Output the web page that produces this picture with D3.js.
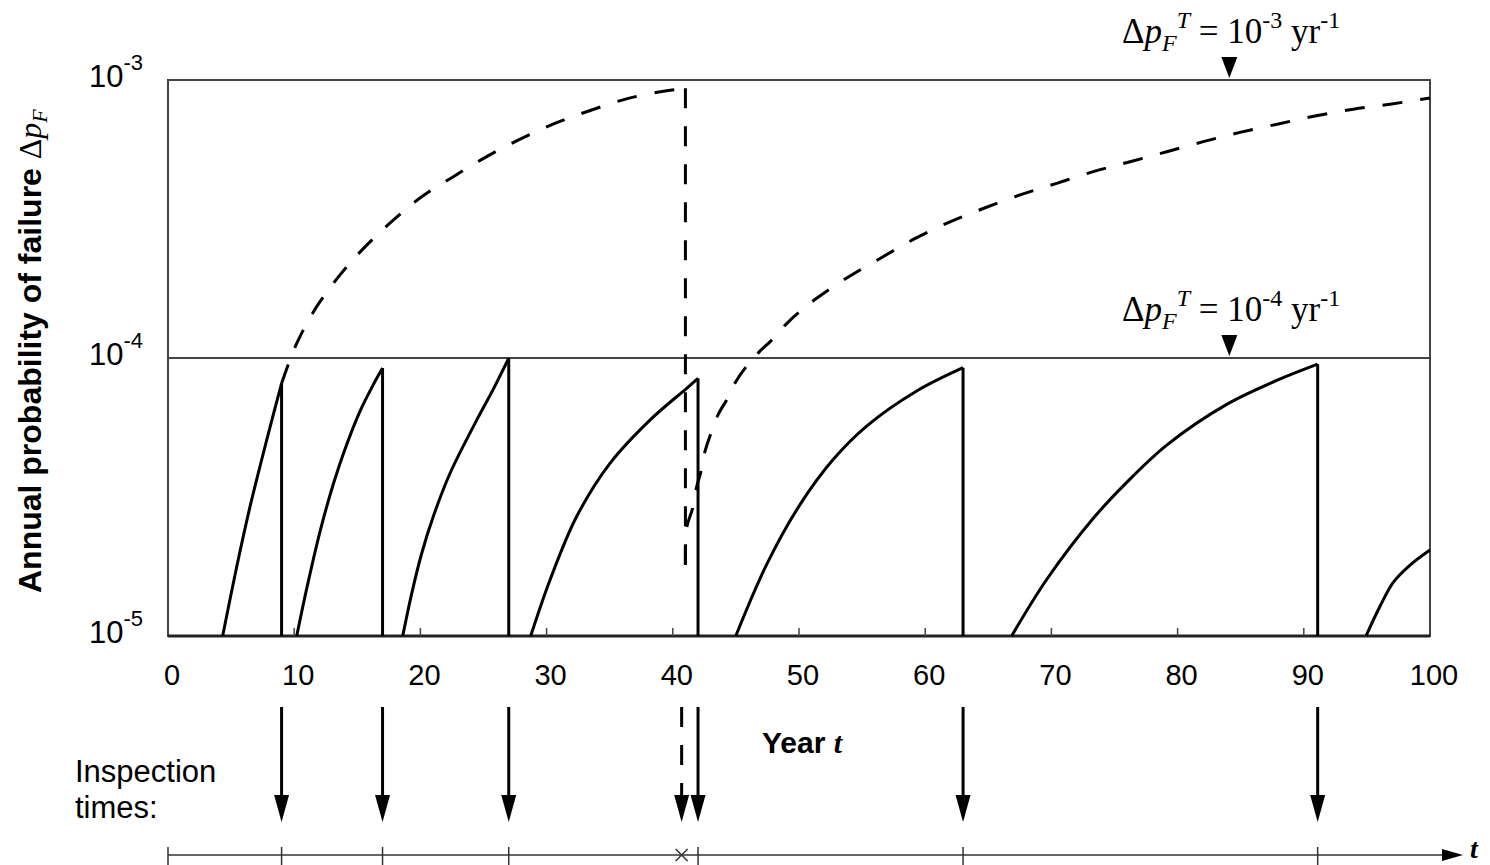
<!DOCTYPE html>
<html>
<head>
<meta charset="utf-8">
<script src="https://cdn.jsdelivr.net/npm/d3@7"></script>
<style>
  html, body { margin: 0; padding: 0; background: #fff; }
  svg { display: block; }
  .sans { font-family: 'Liberation Sans', Arial, Helvetica, sans-serif; }
  .serif { font-family: 'Liberation Serif', 'Times New Roman', Times, serif; }
</style>
</head>
<body>
<div id="chart"></div>
<script>
'use strict';

// x axis (years) and y axis (decades of the annual failure probability)
var xTickValues = [0, 10, 20, 30, 40, 50, 60, 70, 80, 90, 100];
var yTickExponents = [-3, -4, -5];

// target levels and where their markers sit
var targetExponents = [-3, -4];
var targetMarkerYear = 84.1;

// inspection times
var inspectionYears = [9.0, 17.0, 27.0, 42.0, 63.0, 91.1];
var dashedInspectionYear = 41.0;
var dashedArrowYear = 40.7;

// solid curves: target 1e-4, [year, probability]
var solid1 = [[4.33, 1.0e-5], [5.44, 1.77e-5], [6.50, 2.92e-5], [7.82, 5.07e-5], [9.0, 8.1e-5]];
var solid2 = [[10.20, 1.0e-5], [10.99, 1.48e-5], [12.04, 2.37e-5], [13.10, 3.52e-5], [14.03, 4.71e-5],
              [15.21, 6.43e-5], [16.27, 8.02e-5], [17.0, 9.2e-5]];
var solid3 = [[18.60, 1.0e-5], [19.31, 1.42e-5], [20.10, 1.98e-5], [21.02, 2.69e-5], [22.35, 3.85e-5],
              [24.46, 5.98e-5], [25.77, 7.71e-5], [27.0, 9.98e-5]];
var solid4 = [[28.74, 1.0e-5], [30.27, 1.59e-5], [32.38, 2.69e-5], [35.02, 4.18e-5], [38.19, 5.98e-5],
              [41.10, 7.78e-5], [42.0, 8.45e-5]];
var solid5 = [[44.99, 1.0e-5], [47.44, 1.81e-5], [50.08, 2.97e-5], [52.72, 4.32e-5], [55.36, 5.69e-5],
              [59.33, 7.61e-5], [63.0, 9.23e-5]];
var solid6 = [[66.85, 1.0e-5], [69.60, 1.59e-5], [73.32, 2.65e-5], [75.97, 3.57e-5], [79.14, 4.86e-5],
              [83.89, 6.81e-5], [87.85, 8.30e-5], [91.1, 9.50e-5]];
var solid7 = [[94.93, 1.0e-5], [96.04, 1.28e-5], [97.09, 1.56e-5], [98.42, 1.80e-5], [100, 2.04e-5]];

// dashed curves: target 1e-3
var dashed1 = [[9.0, 8.1e-5], [9.72, 1.0e-4], [10.32, 1.16e-4], [11.78, 1.53e-4], [13.63, 1.99e-4],
               [15.61, 2.51e-4], [17.85, 3.13e-4], [20.10, 3.80e-4], [22.61, 4.49e-4], [25.25, 5.30e-4],
               [28.03, 6.17e-4], [30.80, 7.02e-4], [33.57, 7.80e-4], [36.47, 8.59e-4], [39.52, 9.15e-4],
               [41.0, 9.33e-4]];
var dashed2 = [[41.0, 1.8e-5], [41.10, 2.45e-5], [41.58, 2.89e-5], [41.89, 3.44e-5], [42.23, 3.90e-5],
               [42.55, 4.61e-5], [43.03, 5.37e-5], [43.58, 6.24e-5], [44.35, 7.18e-5], [44.99, 8.22e-5],
               [45.93, 9.44e-5], [46.83, 1.05e-4], [47.84, 1.16e-4], [49.02, 1.33e-4], [50.08, 1.47e-4],
               [51.40, 1.64e-4], [53.78, 1.94e-4], [56.42, 2.28e-4], [59.06, 2.67e-4], [61.83, 3.07e-4],
               [64.60, 3.45e-4], [67.51, 3.86e-4], [70.42, 4.25e-4], [73.32, 4.68e-4], [76.23, 5.08e-4],
               [79.14, 5.52e-4], [82.04, 6.00e-4], [84.94, 6.48e-4], [87.98, 6.95e-4], [90.89, 7.42e-4],
               [93.92, 7.85e-4], [96.96, 8.20e-4], [100, 8.61e-4]];

var solidCurves = [solid1, solid2, solid3, solid4, solid5, solid6, solid7];

var width = 1490, height = 865;
var plotLeft = 168, plotRight = 1430, plotTop = 80, plotBottom = 636;

var x = d3.scaleLinear().domain([0, 100]).range([plotLeft, plotRight]);
var y = d3.scaleLog().domain([1e-5, 1e-3]).range([plotBottom, plotTop]);

var svg = d3.select('#chart').append('svg')
    .attr('width', width)
    .attr('height', height);

var line = d3.line()
    .x(function(d) { return x(d[0]); })
    .y(function(d) { return y(d[1]); })
    .curve(d3.curveCatmullRom.alpha(0.5));

// frame
svg.append('rect')
    .attr('x', plotLeft).attr('y', plotTop)
    .attr('width', plotRight - plotLeft).attr('height', plotBottom - plotTop)
    .style('fill', 'none')
    .style('stroke', '#444')
    .style('stroke-width', 2);

// target levels (1e-4 is the inner horizontal line)
svg.selectAll('.target')
    .data(targetExponents)
  .enter().append('line')
    .attr('class', 'target')
    .attr('x1', plotLeft).attr('x2', plotRight)
    .attr('y1', function(d) { return y(Math.pow(10, d)); })
    .attr('y2', function(d) { return y(Math.pow(10, d)); })
    .style('stroke', '#444')
    .style('stroke-width', 2);

// bottom axis, small inner ticks
svg.append('line')
    .attr('x1', plotLeft).attr('x2', plotRight)
    .attr('y1', plotBottom).attr('y2', plotBottom)
    .style('stroke', '#222')
    .style('stroke-width', 3);

svg.selectAll('.xtick')
    .data(xTickValues.slice(1, -1))
  .enter().append('line')
    .attr('class', 'xtick')
    .attr('x1', function(d) { return x(d); })
    .attr('x2', function(d) { return x(d); })
    .attr('y1', plotBottom).attr('y2', plotBottom - 8)
    .style('stroke', '#444')
    .style('stroke-width', 1.5);

svg.selectAll('.xlabel')
    .data(xTickValues)
  .enter().append('text')
    .attr('class', 'xlabel sans')
    .attr('x', function(d) { return x(d) + 4; })
    .attr('y', 685)
    .attr('text-anchor', 'middle')
    .style('font-size', '29px')
    .text(function(d) { return d; });

// y labels 10^-n
var ylab = svg.selectAll('.ylabel')
    .data(yTickExponents)
  .enter().append('text')
    .attr('class', 'ylabel sans')
    .attr('x', 143)
    .attr('y', function(d) { return y(Math.pow(10, d)) + 7; })
    .attr('text-anchor', 'end')
    .style('font-size', '31px');
ylab.append('tspan').text('10');
ylab.append('tspan')
    .attr('dy', -17)
    .style('font-size', '22px')
    .text(function(d) { return '-' + Math.abs(d); });

// y axis title
var ytitle = svg.append('text')
    .attr('transform', 'translate(41,593) rotate(-90)')
    .attr('class', 'sans')
    .style('font-size', '32px')
    .style('font-weight', 'bold');
ytitle.append('tspan').text('Annual probability of failure ');
ytitle.append('tspan').attr('class', 'serif').style('font-weight', 'normal').text('\u0394');
ytitle.append('tspan').attr('class', 'serif').style('font-weight', 'normal')
    .style('font-style', 'italic').text('p');
ytitle.append('tspan').attr('class', 'serif').style('font-weight', 'normal')
    .style('font-style', 'italic').style('font-size', '22px').attr('dy', 6).text('F');

// curves
svg.selectAll('.solid')
    .data(solidCurves)
  .enter().append('path')
    .attr('class', 'solid')
    .attr('d', line)
    .style('fill', 'none')
    .style('stroke', '#000')
    .style('stroke-width', 3);

// drops at each inspection (repair brings the probability back down)
svg.selectAll('.drop')
    .data(solidCurves.slice(0, -1))
  .enter().append('line')
    .attr('class', 'drop')
    .attr('x1', function(d) { return x(d[d.length - 1][0]); })
    .attr('x2', function(d) { return x(d[d.length - 1][0]); })
    .attr('y1', function(d) { return y(d[d.length - 1][1]); })
    .attr('y2', y(1e-5))
    .style('stroke', '#000')
    .style('stroke-width', 3);

svg.selectAll('.dashed')
    .data([dashed1, dashed2])
  .enter().append('path')
    .attr('class', 'dashed')
    .attr('d', line)
    .style('fill', 'none')
    .style('stroke', '#000')
    .style('stroke-width', 3)
    .style('stroke-dasharray', '20,18');

svg.append('line')
    .attr('x1', x(dashedInspectionYear)).attr('x2', x(dashedInspectionYear))
    .attr('y1', y(dashed1[dashed1.length - 1][1]))
    .attr('y2', y(dashed2[0][1]))
    .style('stroke', '#000')
    .style('stroke-width', 3)
    .style('stroke-dasharray', '20,18');

// target labels with down triangles
targetExponents.forEach(function(e) {
    var yy = y(Math.pow(10, e));
    var mx = x(targetMarkerYear);
    svg.append('path')
        .attr('d', 'M' + (mx - 8) + ',' + (yy - 23) + 'L' + (mx + 8) + ',' + (yy - 23) + 'L' + mx + ',' + (yy - 2) + 'Z')
        .style('fill', '#000');

    var t = svg.append('text')
        .attr('class', 'serif')
        .attr('x', 1122)
        .attr('y', yy - 37)
        .style('font-size', '35px');
    t.append('tspan').text('\u0394');
    t.append('tspan').style('font-style', 'italic').text('p');
    t.append('tspan').style('font-style', 'italic').style('font-size', '24px').attr('dy', 8).text('F');
    t.append('tspan').style('font-style', 'italic').style('font-size', '24px').attr('dy', -23).text('T');
    t.append('tspan').attr('dy', 15).text(' = 10');
    t.append('tspan').style('font-size', '24px').attr('dy', -15).text('-' + Math.abs(e));
    t.append('tspan').attr('dy', 15).text(' yr');
    t.append('tspan').style('font-size', '24px').attr('dy', -15).text('-1');
});

// inspection arrows
var arrowTop = 707, headTop = 795, headTip = 822;
var arrows = inspectionYears.map(function(d) { return { year: d, dashed: false }; })
    .concat([{ year: dashedArrowYear, dashed: true }]);

var ag = svg.selectAll('.arrow')
    .data(arrows)
  .enter().append('g')
    .attr('class', 'arrow');
ag.append('line')
    .attr('x1', function(d) { return x(d.year); })
    .attr('x2', function(d) { return x(d.year); })
    .attr('y1', arrowTop).attr('y2', headTop + 2)
    .style('stroke', '#000')
    .style('stroke-width', 3)
    .style('stroke-dasharray', function(d) { return d.dashed ? '20,18' : null; });
ag.append('path')
    .attr('d', function(d) {
        var ax = x(d.year);
        return 'M' + (ax - 7.5) + ',' + headTop + 'L' + (ax + 7.5) + ',' + headTop + 'L' + ax + ',' + headTip + 'Z';
    })
    .style('fill', '#000');

// time line
var lineY = 855;
svg.append('line')
    .attr('x1', x(0)).attr('x2', 1445)
    .attr('y1', lineY).attr('y2', lineY)
    .style('stroke', '#333')
    .style('stroke-width', 1.5);
svg.append('path')
    .attr('d', 'M1442,' + (lineY - 6) + 'L1463,' + lineY + 'L1442,' + (lineY + 6) + 'Z')
    .style('fill', '#000');

svg.selectAll('.ltick')
    .data([0].concat(inspectionYears))
  .enter().append('line')
    .attr('class', 'ltick')
    .attr('x1', function(d) { return x(d); })
    .attr('x2', function(d) { return x(d); })
    .attr('y1', lineY - 8).attr('y2', lineY + 10)
    .style('stroke', '#333')
    .style('stroke-width', 1.5);

var cx = x(dashedArrowYear);
svg.append('path')
    .attr('d', 'M' + (cx - 6) + ',' + (lineY - 6) + 'L' + (cx + 6) + ',' + (lineY + 6) +
               'M' + (cx - 6) + ',' + (lineY + 6) + 'L' + (cx + 6) + ',' + (lineY - 6))
    .style('stroke', '#333')
    .style('stroke-width', 1.5);

svg.append('text')
    .attr('class', 'serif')
    .attr('x', 1470).attr('y', 858)
    .style('font-size', '28px')
    .style('font-style', 'italic')
    .style('font-weight', 'bold')
    .text('t');

// text
var yr = svg.append('text')
    .attr('class', 'sans')
    .attr('x', 762).attr('y', 753)
    .style('font-size', '30px')
    .style('font-weight', 'bold');
yr.append('tspan').text('Year ');
yr.append('tspan').attr('class', 'serif').style('font-style', 'italic').text('t');

svg.append('text')
    .attr('class', 'sans')
    .attr('x', 75).attr('y', 782)
    .style('font-size', '31px')
    .text('Inspection');
svg.append('text')
    .attr('class', 'sans')
    .attr('x', 75).attr('y', 818)
    .style('font-size', '31px')
    .text('times:');
</script>
</body>
</html>
